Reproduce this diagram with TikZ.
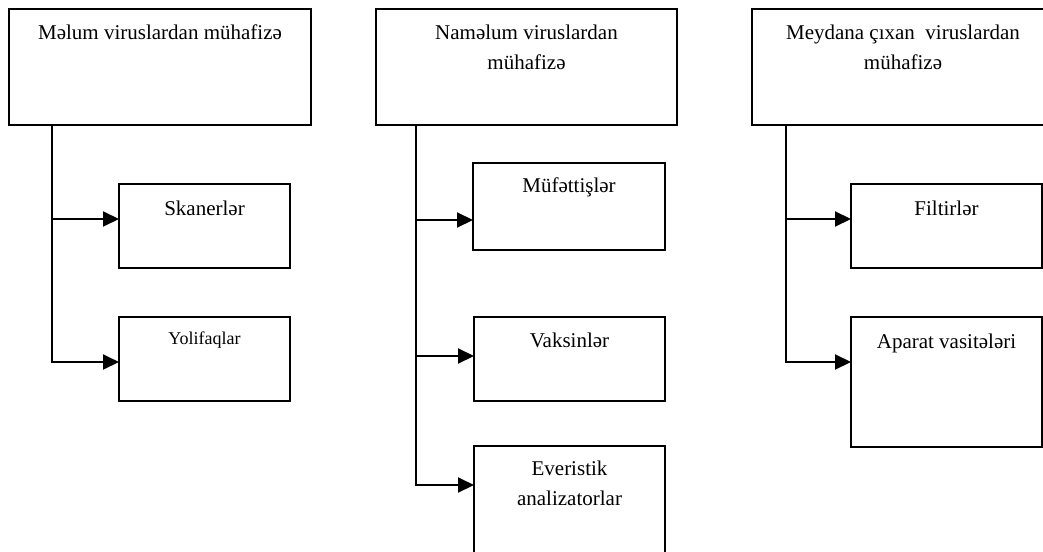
\documentclass[tikz,border=0pt]{standalone}
\usepackage{fontspec}
\setmainfont{Liberation Serif}
\usetikzlibrary{arrows.meta}
\tikzset{
  box/.style={draw, line width=2pt, rectangle, inner sep=0pt, outer sep=0pt, anchor=north west},
  lbl/.style={anchor=north, inner sep=0pt, align=center, font=\fontsize{21}{30}\selectfont},
  smalllbl/.style={anchor=north, inner sep=0pt, align=center, font=\fontsize{18}{26}\selectfont},
  arr/.style={line width=2pt, -{Triangle[length=16pt,width=15pt]}},
}
\begin{document}
\begin{tikzpicture}[x=1pt,y=-1pt]
\useasboundingbox (0,0) rectangle (1043,551);
\begin{scope}
\clip (0,0) rectangle (1043,551);
% top boxes
\node[box, minimum width=302pt, minimum height=116pt] (b1) at (9,9) {};
\node[box, minimum width=301pt, minimum height=116pt] (b2) at (376,9) {};
\node[box, minimum width=302pt, minimum height=116pt] (b3) at (752,9) {};
% column 1
\node[box, minimum width=171pt, minimum height=84pt] (sk) at (119,184) {};
\node[box, minimum width=171pt, minimum height=84pt] (yo) at (119,317) {};
% column 2
\node[box, minimum width=192pt, minimum height=87pt] (mu) at (473,163) {};
\node[box, minimum width=191pt, minimum height=84pt] (va) at (474,317) {};
\node[box, minimum width=191pt, minimum height=115pt] (ev) at (474,446) {};
% column 3
\node[box, minimum width=191pt, minimum height=84pt] (fi) at (851,184) {};
\node[box, minimum width=191pt, minimum height=130pt] (ap) at (851,317) {};

% labels
\node[lbl] (b1t) at ([yshift=-16pt]b1.north) {Məlum viruslardan mühafizə};
\node[lbl] (b2t) at ([yshift=-16pt]b2.north) {Naməlum viruslardan\\mühafizə};
\node[lbl] (b3t) at ([yshift=-16pt]b3.north) {Meydana çıxan~ viruslardan\\mühafizə};
\node[lbl] (skt) at ([yshift=-17pt]sk.north) {Skanerlər};
\node[smalllbl] (yot) at ([yshift=-15pt]yo.north) {Yolifaqlar};
\node[lbl] (mut) at ([yshift=-15pt]mu.north) {Müfəttişlər};
\node[lbl] (vat) at ([yshift=-16pt]va.north) {Vaksinlər};
\node[lbl] (evt) at ([yshift=-15pt]ev.north) {Everistik\\analizatorlar};
\node[lbl] (fit) at ([yshift=-17pt]fi.north) {Filtirlər};
\node[lbl] (apt) at ([yshift=-17pt]ap.north) {Aparat vasitələri};

% trunks
\coordinate (t1) at ([xshift=43pt]b1.south west);
\coordinate (t2) at ([xshift=40pt]b2.south west);
\coordinate (t3) at ([xshift=34pt]b3.south west);

\draw[arr] (t1) |- ([yshift=-35pt]sk.north west);
\draw[arr] (t1) |- ([yshift=-45pt]yo.north west);
\draw[arr] (t2) |- ([yshift=-57pt]mu.north west);
\draw[arr] (t2) |- ([yshift=-39pt]va.north west);
\draw[arr] (t2) |- ([yshift=-39pt]ev.north west);
\draw[arr] (t3) |- ([yshift=-35pt]fi.north west);
\draw[arr] (t3) |- ([yshift=-45pt]ap.north west);
\end{scope}
\end{tikzpicture}
\end{document}
